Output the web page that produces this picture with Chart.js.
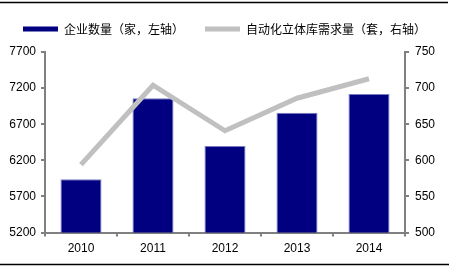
<!DOCTYPE html>
<html>
<head>
<meta charset="utf-8">
<script src="https://cdn.jsdelivr.net/npm/chart.js@4"></script>
<style>
  html, body { margin: 0; padding: 0; background: #fff; }
  #wrap { width: 449px; height: 269px; }
</style>
</head>
<body>
<div id="wrap"><canvas id="myChart"></canvas></div>
<script>
// categories and values
const years = ['2010', '2011', '2012', '2013', '2014'];
const companies = [5940, 7060, 6400, 6860, 7120];   // left axis
const demand = [594, 704, 641, 686, 713];          // right axis
const leftTicks = [5200, 5700, 6200, 6700, 7200, 7700];
const rightTicks = [500, 550, 600, 650, 700, 750];

const axisGray = '#808080';
const tickFont = { family: '"Liberation Sans", Arial, sans-serif', size: 12 };

// black rules top and bottom of the figure
const frameLines = {
  id: 'frameLines',
  beforeDraw(chart) {
    const c = chart.ctx;
    c.save();
    c.fillStyle = '#fff';
    c.fillRect(0, 0, chart.width, chart.height);
    c.strokeStyle = '#000';
    c.lineWidth = 1.5;
    c.beginPath();
    c.moveTo(0, 2.5); c.lineTo(448, 2.5);
    c.moveTo(0, 264.5); c.lineTo(449, 264.5);
    c.stroke();
    c.restore();
  }
};

const config = {
  data: {
    labels: years,
    datasets: [
      {
        type: 'bar',
        label: '企业数量（家，左轴）',
        data: companies,
        yAxisID: 'y',
        backgroundColor: '#000080',
        borderColor: '#7a7ac4',
        borderWidth: 1,
        barPercentage: 0.57,
        categoryPercentage: 1.0,
        order: 1
      },
      {
        type: 'line',
        label: '自动化立体库需求量（套，右轴）',
        data: demand,
        yAxisID: 'y1',
        borderColor: '#c0c0c0',
        backgroundColor: '#c0c0c0',
        borderWidth: 5,
        pointRadius: 0,
        tension: 0,
        order: 0
      }
    ]
  },
  options: {
    responsive: true,
    maintainAspectRatio: false,
    animation: false,
    layout: { padding: { left: 0, right: 0, top: 2, bottom: 8 } },
    plugins: {
      tooltip: { enabled: false },
      legend: {
        position: 'top',
        labels: {
          font: { family: '"Noto Sans CJK SC", sans-serif', size: 12 },
          color: '#000',
          boxWidth: 35,
          boxHeight: 5,
          padding: 21,
          sort: (a, b) => a.datasetIndex - b.datasetIndex,
          generateLabels(chart) {
            const items = Chart.defaults.plugins.legend.labels.generateLabels(chart);
            items.forEach(it => { it.lineWidth = 0; });
            return items;
          }
        }
      }
    },
    scales: {
      x: {
        grid: { display: true, drawOnChartArea: false, tickLength: 4, color: axisGray, lineWidth: 2, offset: true },
        border: { color: axisGray, width: 2 },
        ticks: { font: tickFont, color: '#000', padding: 5 }
      },
      y: {
        position: 'left',
        min: 5200, max: 7700,
        afterBuildTicks: s => { s.ticks = leftTicks.map(v => ({ value: v })); },
        afterFit: s => { s.width = 45; },
        grid: { drawOnChartArea: false, tickLength: 4, color: axisGray, lineWidth: 2 },
        border: { color: axisGray, width: 2 },
        ticks: { font: tickFont, color: '#000', padding: 5, callback: v => String(v) }
      },
      y1: {
        position: 'right',
        min: 500, max: 750,
        afterBuildTicks: s => { s.ticks = rightTicks.map(v => ({ value: v })); },
        afterFit: s => { s.width = 44; },
        grid: { drawOnChartArea: false, tickLength: 4, color: axisGray, lineWidth: 2 },
        border: { color: axisGray, width: 2 },
        ticks: { font: tickFont, color: '#000', padding: 6, callback: v => String(v) }
      }
    }
  },
  plugins: [frameLines]
};

const myChart = new Chart(document.getElementById('myChart'), config);

// leave a little more room under the legend, like the original
const legendFit = myChart.legend.fit;
myChart.legend.fit = function () {
  legendFit.call(this);
  this.height += 7;
};
myChart.update();
</script>
</body>
</html>
